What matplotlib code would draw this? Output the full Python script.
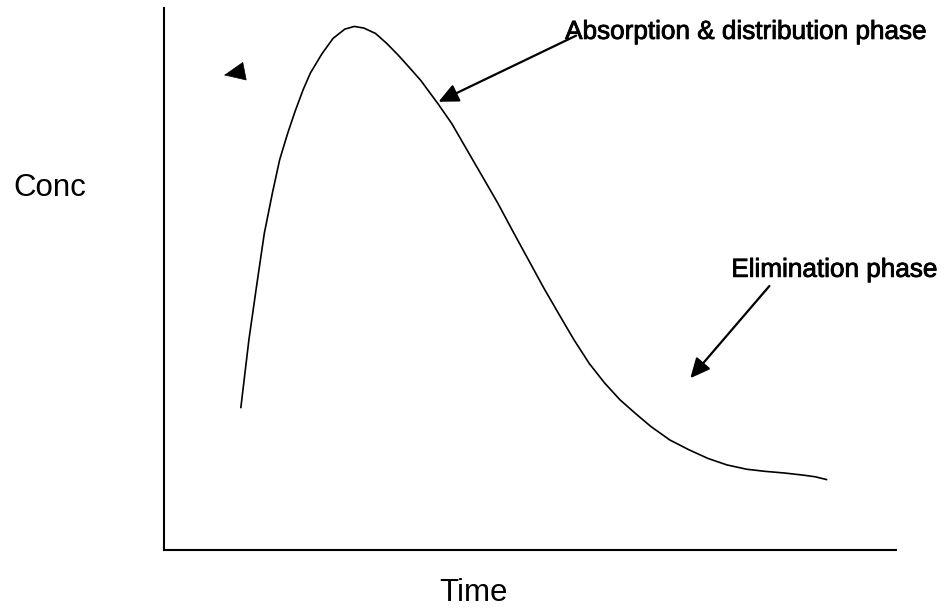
import matplotlib
matplotlib.use("Agg")
import matplotlib.pyplot as plt
import matplotlib.patheffects as pe

plt.rcParams['font.family'] = ['Liberation Sans', 'DejaVu Sans']

# concentration-time curve (arbitrary units)
time = [1.05, 1.16, 1.27, 1.37, 1.48, 1.58, 1.69, 1.79, 1.90, 2.00,
        2.16, 2.31, 2.47, 2.60, 2.73, 2.89, 3.04, 3.20, 3.36, 3.51,
        3.75, 3.93, 4.14, 4.35, 4.56, 4.77, 4.98, 5.19, 5.40, 5.60,
        5.81, 6.02, 6.23, 6.44, 6.65, 6.91, 7.17, 7.43, 7.69, 7.96,
        8.22, 8.48, 8.74, 8.90, 9.05]
conc = [2.63, 3.88, 4.92, 5.84, 6.58, 7.20, 7.69, 8.09, 8.49, 8.80,
        9.16, 9.44, 9.61, 9.66, 9.63, 9.53, 9.35, 9.13, 8.89, 8.66,
        8.22, 7.87, 7.38, 6.89, 6.40, 5.87, 5.35, 4.83, 4.34, 3.88,
        3.44, 3.08, 2.77, 2.52, 2.28, 2.03, 1.85, 1.69, 1.57, 1.49,
        1.45, 1.42, 1.38, 1.35, 1.30]

# annotations: label, label position, arrow tail, arrow tip
labels = ["Absorption & distribution phase", "Elimination phase"]
label_pos = [(5.48, 9.43), (7.75, 5.04)]
arrow_tail = [(5.63, 9.49), (8.27, 4.87)]
arrow_tip = [(3.75, 8.27), (7.19, 3.17)]

# stray arrow head left over in the top-left corner
stray_tail = (1.01, 8.81)
stray_tip = (0.82, 8.76)

fig = plt.figure(figsize=(9.46, 6.09), dpi=100)
ax = fig.add_axes([164 / 946, 59 / 609, 732 / 946, 542 / 609])

ax.plot(time, conc, color="black", linewidth=1.2)

for text, pos in zip(labels, label_pos):
    ax.text(pos[0], pos[1], text, fontsize=18.8, ha="left", va="baseline",
            path_effects=[pe.withStroke(linewidth=0.6, foreground="black")])

head = "-|>,head_length=0.75,head_width=0.35"
for tail, tip in zip(arrow_tail, arrow_tip):
    ax.annotate("", xy=tip, xytext=tail,
                arrowprops=dict(arrowstyle=head, color="black", lw=1.6,
                                mutation_scale=16, shrinkA=0, shrinkB=0))

ax.annotate("", xy=stray_tip, xytext=stray_tail,
            arrowprops=dict(arrowstyle="-|>,head_length=0.9,head_width=0.4",
                            color="black", lw=0.5, mutation_scale=16,
                            shrinkA=0, shrinkB=0))

ax.set_xlim(0, 10)
ax.set_ylim(0, 10)
ax.set_xticks([])
ax.set_yticks([])
ax.spines["top"].set_visible(False)
ax.spines["right"].set_visible(False)
ax.spines["left"].set_linewidth(1.5)
ax.spines["bottom"].set_linewidth(1.5)

fig.text(13 / 946, 1 - 188 / 609, "Conc", fontsize=22.5, ha="left", va="center")
fig.text(473.5 / 946, 1 - 593 / 609, "Time", fontsize=22.5, ha="center", va="center")

fig.savefig("out.png", dpi=100)
